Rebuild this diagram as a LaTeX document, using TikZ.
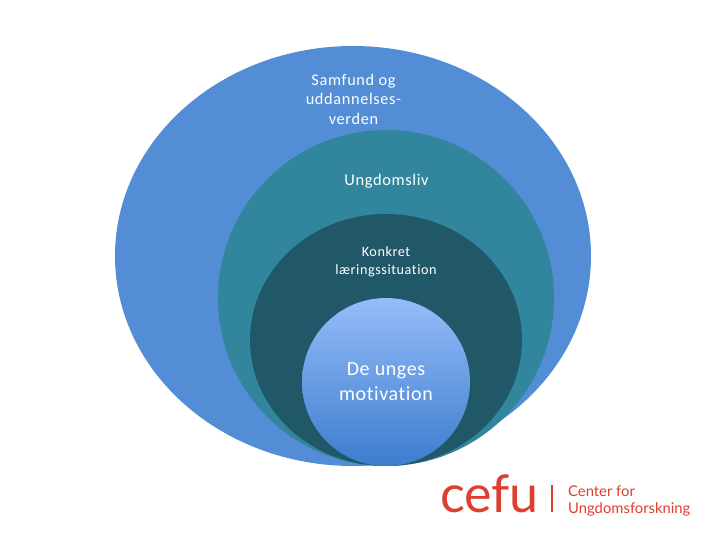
\documentclass[tikz,border=0pt]{standalone}
\usepackage{fontspec}
\setmainfont[Ligatures=NoCommon,Contextuals=NoAlternate]{Carlito}
\newfontfamily\logofont{Lato}
\newfontfamily\logotext{Lato}
\usetikzlibrary{shapes.geometric}
\definecolor{outerblue}{RGB}{83,141,213}
\definecolor{tealmid}{RGB}{49,133,156}
\definecolor{tealdark}{RGB}{33,88,104}
\definecolor{gradtop}{RGB}{149,188,250}
\definecolor{gradbot}{RGB}{60,125,205}
\definecolor{cefured}{RGB}{222,62,48}
\tikzset{
  x=1pt,y=-1pt,
  blob/.style={ellipse,inner sep=0pt,outer sep=0pt,draw=none},
  lab/.style={text=white,align=center,inner sep=0pt},
  lab1/.style={lab,font=\fontsize{16.3}{19.5}\selectfont\addfontfeatures{LetterSpace=4}},
  lab2/.style={lab,font=\fontsize{16.4}{19}\selectfont\addfontfeatures{LetterSpace=4}},
  lab3/.style={lab,font=\fontsize{14.2}{18}\selectfont\addfontfeatures{LetterSpace=4}},
  lab4/.style={lab,font=\fontsize{20}{25}\selectfont\addfontfeatures{LetterSpace=3}},
}
\begin{document}
\begin{tikzpicture}
\useasboundingbox (0,0) rectangle (720,540);
\node[blob,fill=outerblue,minimum width=476pt,minimum height=420pt] (outer) at (353,256) {};
\node[blob,fill=tealmid,minimum width=336pt,minimum height=336pt] (mid) at (386,298) {};
\node[blob,fill=tealdark,minimum width=272pt,minimum height=252pt] (dark) at (386,340) {};
\node[blob,top color=gradtop,bottom color=gradbot,minimum width=168pt,minimum height=168pt] (core) at (386,382) {};
\node[lab1] (t1) at (353.5,99) {Samfund og\\uddannelses-\\verden};
\node[lab2] (t2) at (386.5,181) {Ungdomsliv};
\node[lab3] (t3) at (386,262) {Konkret\\læringssituation};
\node[lab4] (t4) at (386,382) {De unges\\motivation};
\node[text=cefured,inner sep=0pt,anchor=base,font=\logofont\fontsize{52}{52}\selectfont] (logo) at (489.5,512) {cefu};
\node[draw=none,fill=cefured,inner sep=0pt,minimum width=2.2pt,minimum height=27pt] (bar) at (552,498.5) {};
\node[text=cefured,inner sep=0pt,anchor=west,align=left,font=\logotext\fontsize{14.8}{17}\selectfont] (sub) at (568,501) {Center for\\Ungdomsforskning};
\end{tikzpicture}
\end{document}
